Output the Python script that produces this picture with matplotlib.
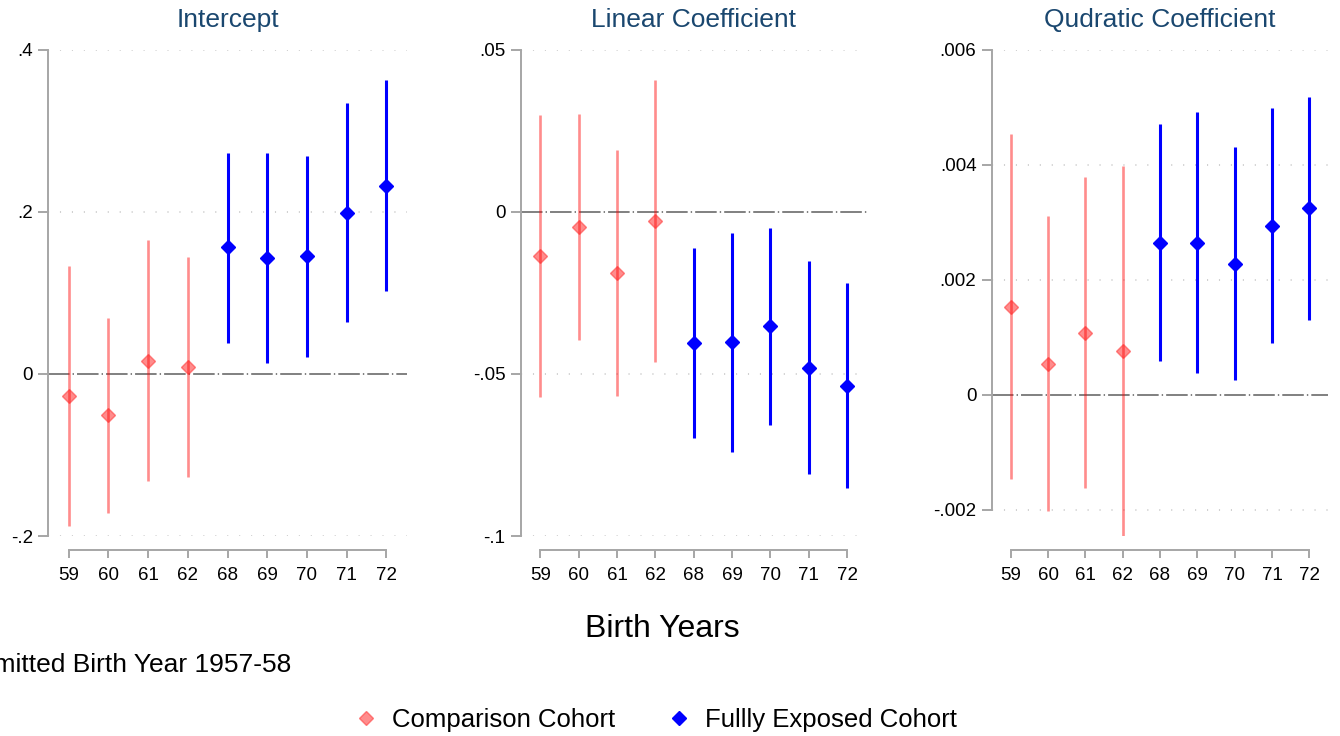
import matplotlib
matplotlib.use("Agg")
import matplotlib.pyplot as plt
from matplotlib.lines import Line2D

plt.rcParams['font.family'] = ['Liberation Sans', 'DejaVu Sans']
plt.rcParams['lines.scale_dashes'] = False

# Birth-year cohorts (first four: comparison, rest: fully exposed)
years = ['59', '60', '61', '62', '68', '69', '70', '71', '72']
n_comparison = 4

intercept_est = [-0.027, -0.051, 0.016, 0.008, 0.156, 0.143, 0.145, 0.198, 0.232]
intercept_lo = [-0.187, -0.171, -0.132, -0.127, 0.038, 0.014, 0.021, 0.064, 0.102]
intercept_hi = [0.133, 0.069, 0.165, 0.144, 0.273, 0.272, 0.269, 0.334, 0.362]

linear_est = [-0.0137, -0.0046, -0.0189, -0.0028, -0.0406, -0.0401, -0.0353, -0.0481, -0.0537]
linear_lo = [-0.0572, -0.0394, -0.0567, -0.0462, -0.0697, -0.0740, -0.0657, -0.0809, -0.0851]
linear_hi = [0.0299, 0.0301, 0.0190, 0.0405, -0.0112, -0.0065, -0.0049, -0.0153, -0.0220]

quad_est = [0.00153, 0.00053, 0.00107, 0.00076, 0.00264, 0.00263, 0.00227, 0.00294, 0.00324]
quad_lo = [-0.00147, -0.00203, -0.00163, -0.00246, 0.00059, 0.00037, 0.00026, 0.00089, 0.00129]
quad_hi = [0.00454, 0.00310, 0.00378, 0.00398, 0.00470, 0.00491, 0.00430, 0.00499, 0.00518]

titles = ['Intercept', 'Linear Coefficient', 'Qudratic Coefficient']
ytick_values = [[-0.2, 0.0, 0.2, 0.4],
                [-0.1, -0.05, 0.0, 0.05],
                [-0.002, 0.0, 0.002, 0.004, 0.006]]
ytick_labels = [['-.2', '0', '.2', '.4'],
                ['-.1', '-.05', '0', '.05'],
                ['-.002', '0', '.002', '.004', '.006']]

legend_labels = ['Comparison Cohort', 'Fullly Exposed Cohort']

RED_LINE = (1.0, 0.0, 0.0, 0.45)
RED_FACE = (1.0, 0.0, 0.0, 0.45)
RED_EDGE = (1.0, 0.2, 0.2, 0.55)
BLUE = '#0000ff'
TITLE_COLOR = '#1a476f'
AXIS_GREY = '#a6a6a6'
MS = 6.8

W, H = 1340, 736
fig = plt.figure(figsize=(W / 100, H / 100), dpi=100)

# axes boxes in pixels: (left, right)
panel_x = [(48.3, 406.7), (520.7, 866.7), (991.7, 1328.3)]
top_px, bottom_px = 49.6, 536.1

panels = [(intercept_est, intercept_lo, intercept_hi),
          (linear_est, linear_lo, linear_hi),
          (quad_est, quad_lo, quad_hi)]

xpos = list(range(len(years)))

for i, ((est, lo, hi), (xl, xr)) in enumerate(zip(panels, panel_x)):
    ax = fig.add_axes([xl / W, 1 - bottom_px / H, (xr - xl) / W, (bottom_px - top_px) / H])
    ticks = ytick_values[i]
    ymin = min(min(ticks), min(lo))
    ymax = max(max(ticks), max(hi))
    ax.set_ylim(ymin, ymax)
    ax.set_xlim(-0.51, 8.51)

    # dotted grid at y ticks (except zero, which gets the reference line)
    for t in ticks:
        if t != 0:
            ax.axhline(t, color='#c4c4c4', lw=1.1, dashes=(0.8, 7.8), zorder=0)
    ax.axhline(0, color='#767676', lw=1.3, dashes=(15.5, 2.2, 1.0, 2.2), zorder=1)

    for j, x in enumerate(xpos):
        if j < n_comparison:
            ax.plot([x, x], [lo[j], hi[j]], color=RED_LINE, lw=1.9, solid_capstyle='butt', zorder=2)
            ax.plot([x], [est[j]], marker='D', ms=MS, mfc=RED_FACE, mec=RED_EDGE, mew=1.0,
                    ls='none', zorder=3)
        else:
            ax.plot([x, x], [lo[j], hi[j]], color=BLUE, lw=2.2, solid_capstyle='butt', zorder=2)
            ax.plot([x], [est[j]], marker='D', ms=MS, mfc=BLUE, mec=BLUE, mew=1.0,
                    ls='none', zorder=3)

    ax.set_yticks(ticks)
    ax.set_yticklabels(ytick_labels[i])
    ax.set_xticks(xpos)
    ax.set_xticklabels(years)

    for s in ['top', 'right']:
        ax.spines[s].set_visible(False)
    ax.spines['left'].set_bounds(min(ticks), max(ticks))
    ax.spines['left'].set_color(AXIS_GREY)
    ax.spines['left'].set_linewidth(1.4)
    ax.spines['bottom'].set_position(('outward', 10.3))
    ax.spines['bottom'].set_bounds(xpos[0], xpos[-1])
    ax.spines['bottom'].set_color(AXIS_GREY)
    ax.spines['bottom'].set_linewidth(1.4)

    ax.tick_params(axis='y', length=7, width=1.4, color=AXIS_GREY, pad=4, labelsize=13.5)
    ax.tick_params(axis='x', length=6, width=1.4, color=AXIS_GREY, pad=6, labelsize=13.5)
    ax.set_facecolor('none')
    ax.set_title(titles[i], fontsize=19, color=TITLE_COLOR, pad=16.5)

fig.text(662 / W, 1 - 629 / H, 'Birth Years', fontsize=23, ha='center', va='center')
fig.text(-27 / W, 1 - 665 / H, 'Omitted Birth Year 1957-58', fontsize=19, ha='left', va='center')

handles = [Line2D([], [], marker='D', ms=MS, mfc=RED_FACE, mec=RED_EDGE, mew=1.0, ls='none'),
           Line2D([], [], marker='D', ms=MS, mfc=BLUE, mec=BLUE, mew=1.0, ls='none')]
fig.legend(handles, legend_labels, loc='center', bbox_to_anchor=(655 / W, 1 - 720 / H),
           ncol=2, frameon=False, fontsize=18.5, handlelength=1.0, handletextpad=0.5,
           columnspacing=2.0, borderpad=0)

fig.savefig('out.png', dpi=100)
